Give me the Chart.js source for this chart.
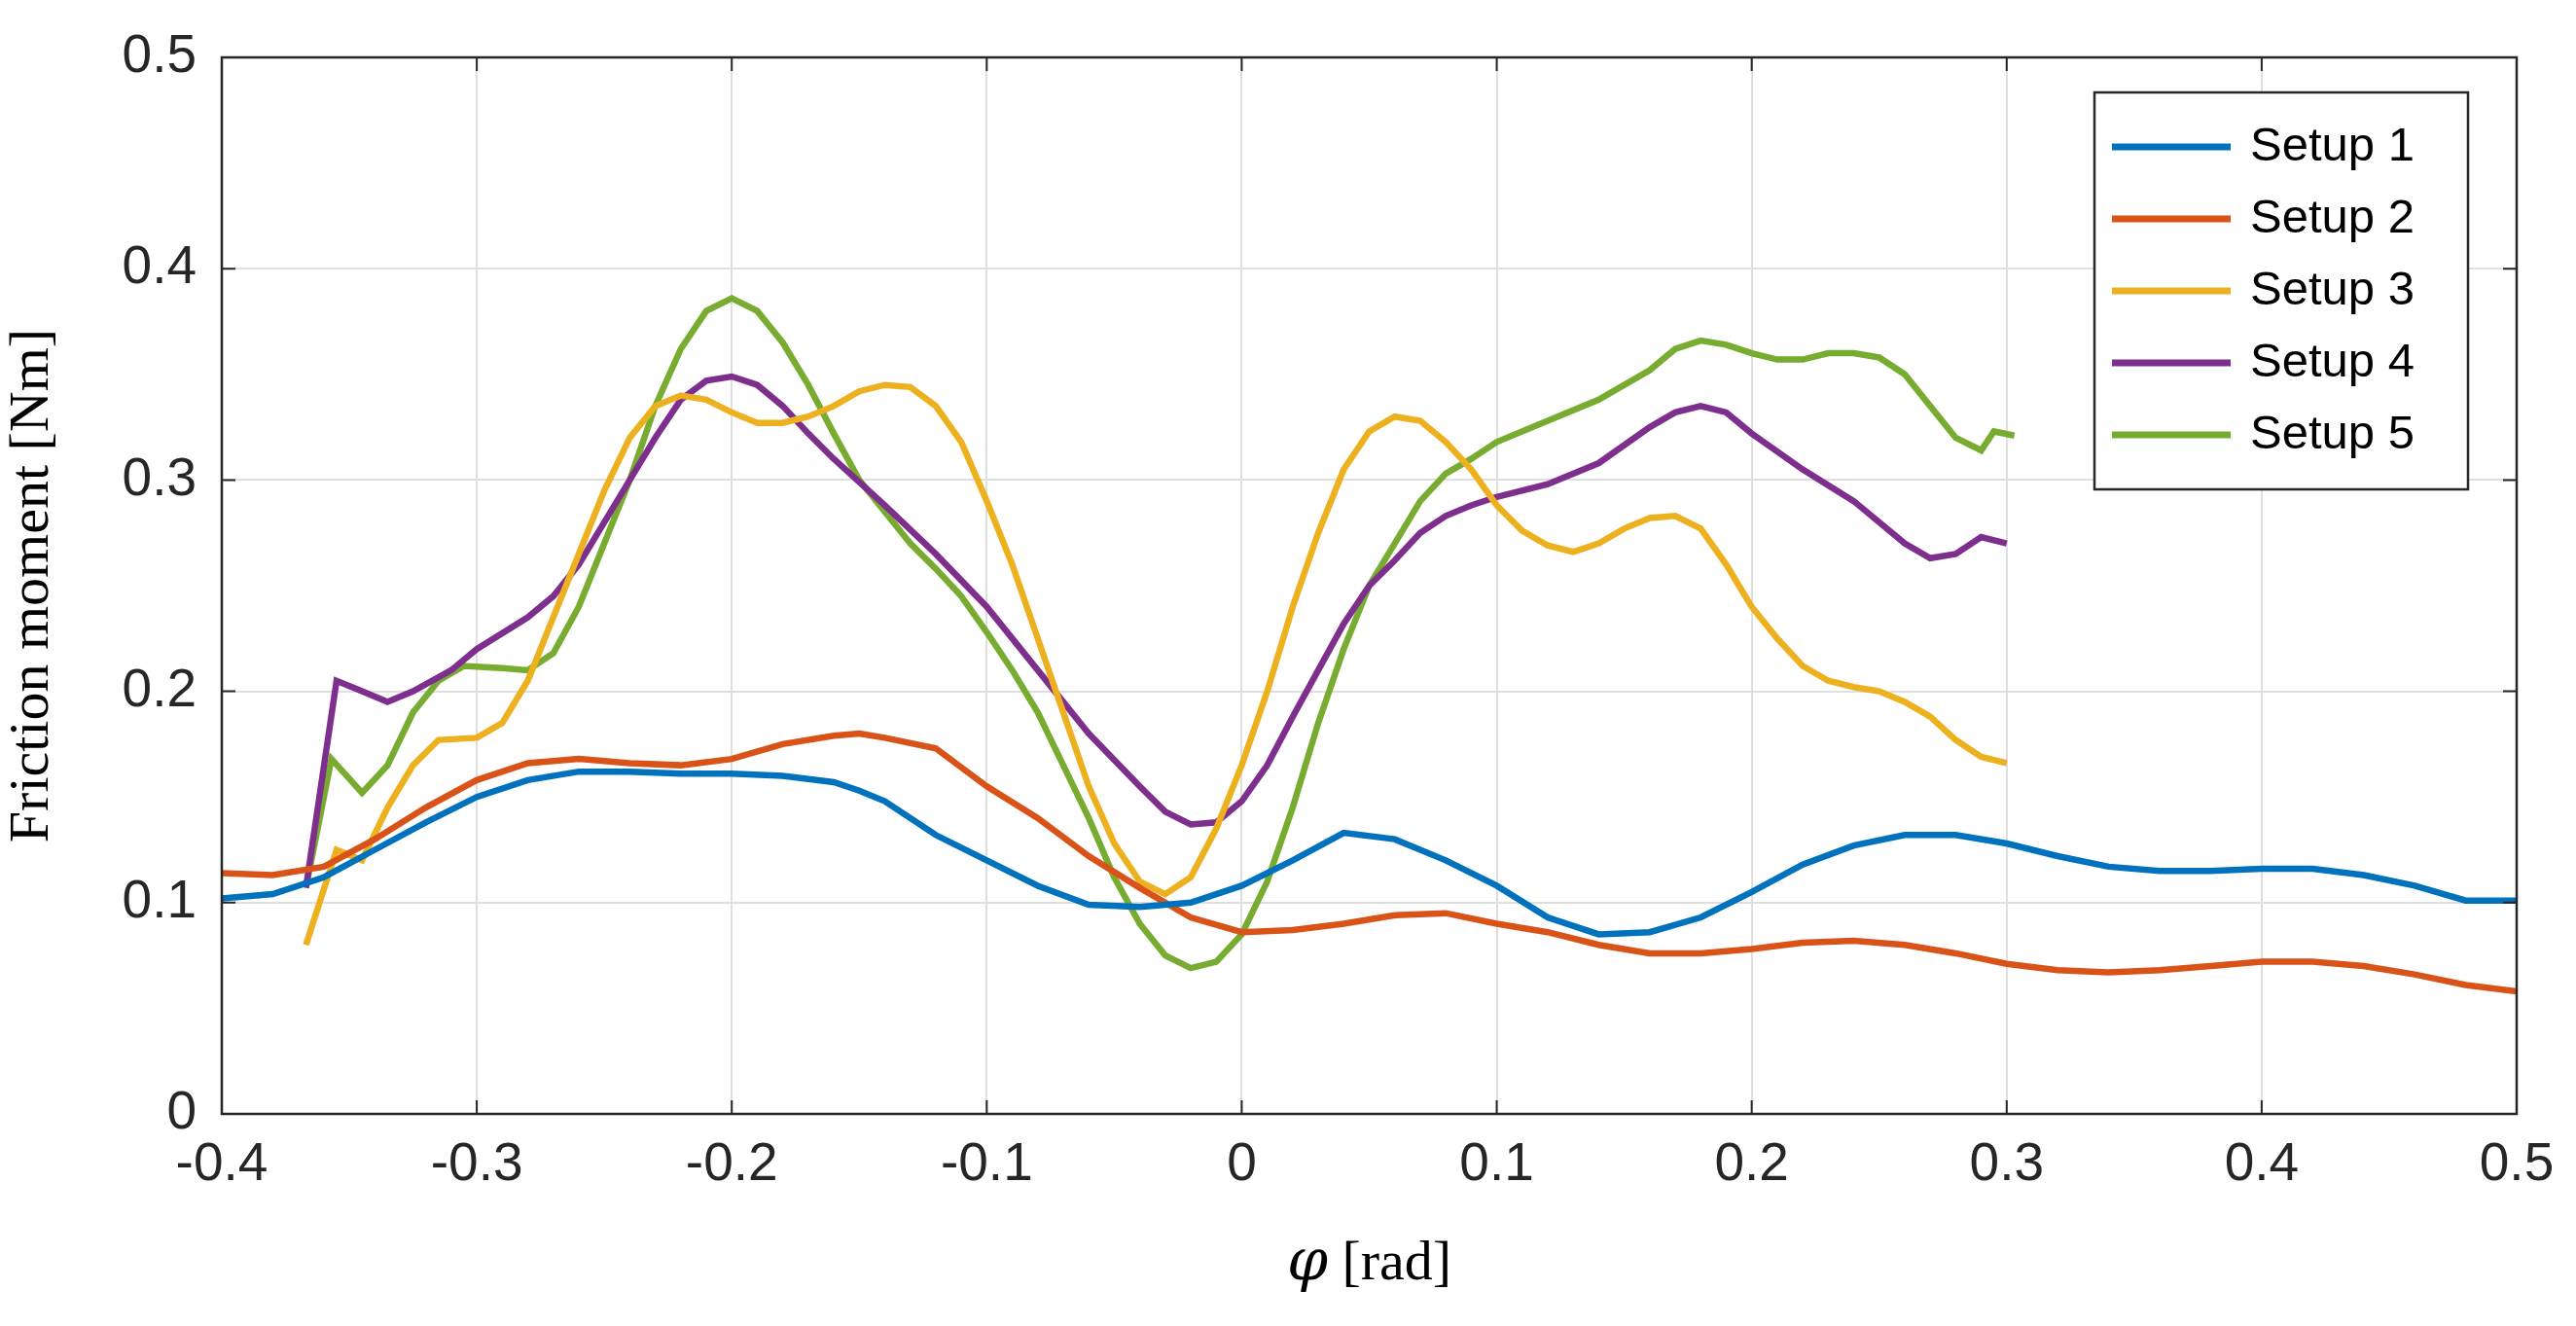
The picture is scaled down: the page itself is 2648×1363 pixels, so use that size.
<!DOCTYPE html>
<html>
<head>
<meta charset="utf-8">
<script src="https://cdn.jsdelivr.net/npm/chart.js@4/dist/chart.umd.min.js"></script>
<style>
  html, body { margin: 0; padding: 0; background: #fff; }
  #wrap { width: 2648px; height: 1363px; }
</style>
</head>
<body>
<div id="wrap"><canvas id="c" width="2648" height="1363"></canvas></div>
<script>
// 数据
const seriesLabels = ['Setup 1', 'Setup 2', 'Setup 3', 'Setup 4', 'Setup 5'];
const seriesColors = ['#0072BD', '#D95319', '#EDB120', '#7E2F8E', '#77AC30'];
const xTicks = [-0.4, -0.3, -0.2, -0.1, 0, 0.1, 0.2, 0.3, 0.4, 0.5];
const yTicks = [0, 0.1, 0.2, 0.3, 0.4, 0.5];

const x12 = [-0.4, -0.38, -0.36, -0.34, -0.32, -0.30, -0.28, -0.26, -0.24, -0.22, -0.20, -0.18, -0.16, -0.15, -0.14, -0.12, -0.10, -0.08, -0.06, -0.04, -0.02, 0, 0.02, 0.04, 0.06, 0.08, 0.10, 0.12, 0.14, 0.16, 0.18, 0.20, 0.22, 0.24, 0.26, 0.28, 0.30, 0.32, 0.34, 0.36, 0.38, 0.40, 0.42, 0.44, 0.46, 0.48, 0.50];
const y1 = [0.102, 0.104, 0.112, 0.125, 0.138, 0.150, 0.158, 0.162, 0.162, 0.161, 0.161, 0.160, 0.157, 0.153, 0.148, 0.132, 0.120, 0.108, 0.099, 0.098, 0.100, 0.108, 0.120, 0.133, 0.130, 0.120, 0.108, 0.093, 0.085, 0.086, 0.093, 0.105, 0.118, 0.127, 0.132, 0.132, 0.128, 0.122, 0.117, 0.115, 0.115, 0.116, 0.116, 0.113, 0.108, 0.101, 0.101];
const y2 = [0.114, 0.113, 0.117, 0.130, 0.145, 0.158, 0.166, 0.168, 0.166, 0.165, 0.168, 0.175, 0.179, 0.180, 0.178, 0.173, 0.155, 0.140, 0.122, 0.107, 0.093, 0.086, 0.087, 0.090, 0.094, 0.095, 0.090, 0.086, 0.080, 0.076, 0.076, 0.078, 0.081, 0.082, 0.080, 0.076, 0.071, 0.068, 0.067, 0.068, 0.070, 0.072, 0.072, 0.070, 0.066, 0.061, 0.058];

const x3 = [-0.367, -0.355, -0.345, -0.335, -0.325, -0.315, -0.30, -0.29, -0.28, -0.27, -0.26, -0.25, -0.24, -0.23, -0.22, -0.21, -0.20, -0.19, -0.18, -0.17, -0.16, -0.15, -0.14, -0.13, -0.12, -0.11, -0.10, -0.09, -0.08, -0.07, -0.06, -0.05, -0.04, -0.03, -0.02, -0.01, 0, 0.01, 0.02, 0.03, 0.04, 0.05, 0.06, 0.07, 0.08, 0.09, 0.10, 0.11, 0.12, 0.13, 0.14, 0.15, 0.16, 0.17, 0.18, 0.19, 0.20, 0.21, 0.22, 0.23, 0.24, 0.25, 0.26, 0.27, 0.28, 0.29, 0.30];
const y3 = [0.080, 0.125, 0.120, 0.145, 0.165, 0.177, 0.178, 0.185, 0.205, 0.235, 0.265, 0.295, 0.320, 0.335, 0.340, 0.338, 0.332, 0.327, 0.327, 0.330, 0.335, 0.342, 0.345, 0.344, 0.335, 0.318, 0.290, 0.260, 0.225, 0.190, 0.155, 0.128, 0.110, 0.104, 0.112, 0.135, 0.165, 0.200, 0.240, 0.275, 0.305, 0.323, 0.330, 0.328, 0.318, 0.305, 0.288, 0.276, 0.269, 0.266, 0.270, 0.277, 0.282, 0.283, 0.277, 0.260, 0.240, 0.225, 0.212, 0.205, 0.202, 0.200, 0.195, 0.188, 0.177, 0.169, 0.166];

const x4 = [-0.367, -0.355, -0.345, -0.335, -0.325, -0.31, -0.30, -0.28, -0.27, -0.26, -0.25, -0.24, -0.23, -0.22, -0.21, -0.20, -0.19, -0.18, -0.17, -0.16, -0.14, -0.12, -0.10, -0.08, -0.06, -0.04, -0.03, -0.02, -0.01, 0, 0.01, 0.02, 0.03, 0.04, 0.05, 0.06, 0.07, 0.08, 0.09, 0.10, 0.12, 0.14, 0.16, 0.17, 0.18, 0.19, 0.20, 0.22, 0.24, 0.26, 0.27, 0.28, 0.29, 0.30];
const y4 = [0.107, 0.205, 0.200, 0.195, 0.200, 0.210, 0.220, 0.235, 0.245, 0.260, 0.280, 0.300, 0.320, 0.338, 0.347, 0.349, 0.345, 0.335, 0.322, 0.310, 0.288, 0.265, 0.240, 0.210, 0.180, 0.155, 0.143, 0.137, 0.138, 0.148, 0.165, 0.188, 0.210, 0.232, 0.250, 0.262, 0.275, 0.283, 0.288, 0.292, 0.298, 0.308, 0.325, 0.332, 0.335, 0.332, 0.322, 0.305, 0.290, 0.270, 0.263, 0.265, 0.273, 0.270];

const x5 = [-0.367, -0.357, -0.345, -0.335, -0.325, -0.315, -0.305, -0.29, -0.28, -0.27, -0.26, -0.25, -0.24, -0.23, -0.22, -0.21, -0.20, -0.19, -0.18, -0.17, -0.16, -0.15, -0.14, -0.13, -0.12, -0.11, -0.10, -0.09, -0.08, -0.07, -0.06, -0.05, -0.04, -0.03, -0.02, -0.01, 0, 0.01, 0.02, 0.03, 0.04, 0.05, 0.06, 0.07, 0.08, 0.09, 0.10, 0.12, 0.14, 0.16, 0.17, 0.18, 0.19, 0.20, 0.21, 0.22, 0.23, 0.24, 0.25, 0.26, 0.27, 0.28, 0.29, 0.295, 0.303];
const y5 = [0.107, 0.168, 0.152, 0.165, 0.190, 0.205, 0.212, 0.211, 0.210, 0.218, 0.240, 0.270, 0.300, 0.335, 0.362, 0.380, 0.386, 0.380, 0.365, 0.345, 0.322, 0.300, 0.285, 0.270, 0.258, 0.245, 0.228, 0.210, 0.190, 0.165, 0.140, 0.112, 0.090, 0.075, 0.069, 0.072, 0.085, 0.110, 0.145, 0.185, 0.220, 0.250, 0.270, 0.290, 0.303, 0.310, 0.318, 0.328, 0.338, 0.352, 0.362, 0.366, 0.364, 0.360, 0.357, 0.357, 0.360, 0.360, 0.358, 0.350, 0.335, 0.320, 0.314, 0.323, 0.321];

const xsAll = [x12, x12, x3, x4, x5];
const ysAll = [y1, y2, y3, y4, y5];

// 外框、图例和坐标轴标题
const decorPlugin = {
  id: 'decor',
  afterDraw(chart) {
    const ctx = chart.ctx;
    const a = chart.chartArea;
    ctx.save();
    ctx.strokeStyle = '#262626';
    ctx.lineWidth = 2.5;
    ctx.strokeRect(a.left, a.top, a.right - a.left, a.bottom - a.top);

    // 刻度线（向内）
    const xs = chart.scales.x, ys = chart.scales.y;
    ctx.lineWidth = 2;
    xTicks.forEach(v => {
      const px = xs.getPixelForValue(v);
      ctx.beginPath(); ctx.moveTo(px, a.bottom); ctx.lineTo(px, a.bottom - 14);
      ctx.moveTo(px, a.top); ctx.lineTo(px, a.top + 14); ctx.stroke();
    });
    yTicks.forEach(v => {
      const py = ys.getPixelForValue(v);
      ctx.beginPath(); ctx.moveTo(a.left, py); ctx.lineTo(a.left + 14, py);
      ctx.moveTo(a.right, py); ctx.lineTo(a.right - 14, py); ctx.stroke();
    });

    // 图例
    const lx = 2153, ly = 95, lw = 384, lh = 408;
    ctx.fillStyle = '#fff';
    ctx.fillRect(lx, ly, lw, lh);
    ctx.strokeStyle = '#262626';
    ctx.lineWidth = 2.5;
    ctx.strokeRect(lx, ly, lw, lh);
    ctx.font = '49px "Liberation Sans", Arial, sans-serif';
    ctx.textBaseline = 'middle';
    seriesLabels.forEach((lab, i) => {
      const cy = ly + 56 + i * 74;
      ctx.strokeStyle = seriesColors[i];
      ctx.lineWidth = 7;
      ctx.beginPath(); ctx.moveTo(lx + 18, cy); ctx.lineTo(lx + 140, cy); ctx.stroke();
      ctx.fillStyle = '#000';
      ctx.textAlign = 'left';
      ctx.fillText(lab, lx + 160, cy);
    });

    // 坐标轴标题
    ctx.fillStyle = '#000';
    ctx.textBaseline = 'middle';
    const xc = (a.left + a.right) / 2;
    ctx.font = 'italic 60px "DejaVu Serif", serif';
    const phiW = ctx.measureText('φ').width;
    ctx.font = '58px "Liberation Serif", serif';
    const restW = ctx.measureText(' [rad]').width;
    const x0 = xc - (phiW + restW) / 2;
    ctx.textAlign = 'left';
    ctx.font = 'italic 60px "DejaVu Serif", serif';
    ctx.fillText('φ', x0, 1300);
    ctx.font = '58px "Liberation Serif", serif';
    ctx.fillText(' [rad]', x0 + phiW, 1300);

    ctx.translate(34, (a.top + a.bottom) / 2);
    ctx.rotate(-Math.PI / 2);
    ctx.textAlign = 'center';
    ctx.font = '58px "Liberation Serif", serif';
    ctx.fillText('Friction moment [Nm]', 0, 0);
    ctx.restore();
  }
};

const ctx = document.getElementById('c').getContext('2d');
new Chart(ctx, {
  type: 'line',
  data: {
    datasets: seriesLabels.map((lab, i) => ({
      label: lab,
      data: xsAll[i].map((x, j) => ({ x: x, y: ysAll[i][j] })),
      borderColor: seriesColors[i],
      borderWidth: 6.5,
      pointRadius: 0,
      fill: false,
      tension: 0
    }))
  },
  options: {
    responsive: false,
    animation: false,
    layout: { padding: { top: 44, right: 61, left: 0, bottom: 0 } },
    plugins: { legend: { display: false }, tooltip: { enabled: false } },
    scales: {
      x: {
        type: 'linear', min: -0.4, max: 0.5,
        afterBuildTicks: s => { s.ticks = xTicks.map(v => ({ value: v })); },
        afterFit: s => { s.height = 218; },
        grid: { color: '#dfdfdf', lineWidth: 2, drawTicks: false },
        border: { display: false },
        ticks: {
          color: '#262626', padding: 20,
          font: { family: '"Liberation Sans", Arial, sans-serif', size: 55 },
          callback: v => String(v)
        }
      },
      y: {
        type: 'linear', min: 0, max: 0.5,
        afterBuildTicks: s => { s.ticks = yTicks.map(v => ({ value: v })); },
        afterFit: s => { s.width = 228; },
        grid: { color: '#dfdfdf', lineWidth: 2, drawTicks: false },
        border: { display: false },
        ticks: {
          color: '#262626', padding: 26,
          font: { family: '"Liberation Sans", Arial, sans-serif', size: 55 },
          callback: v => String(v)
        }
      }
    }
  },
  plugins: [decorPlugin]
});
</script>
</body>
</html>
